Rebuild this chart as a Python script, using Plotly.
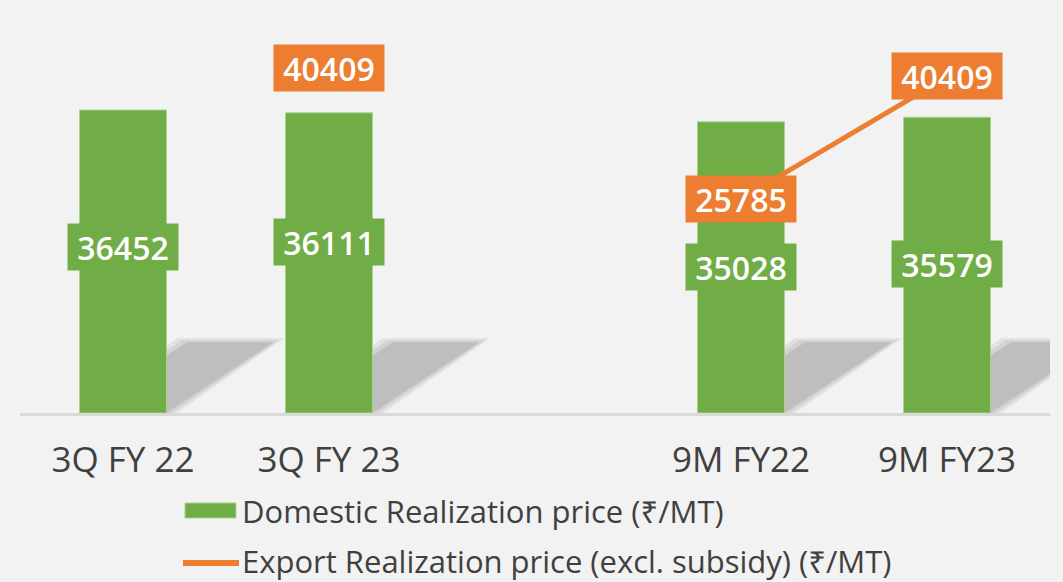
import plotly.graph_objects as go

# ---- data ----
categories = ["3Q FY 22", "3Q FY 23", " ", "9M FY22", "9M FY23"]
domestic = [36452, 36111, None, 35028, 35579]
export = [None, 40409, None, 25785, 40409]
series_names = ["Domestic Realization price (₹/MT)",
                "Export Realization price (excl. subsidy) (₹/MT)"]

GREEN = "#70AD47"
ORANGE = "#ED7D31"
BG = "#F2F2F2"
TXT = "#404040"
FONT = "Open Sans, Noto Sans, DejaVu Sans, sans-serif"

W, H = 1063, 582
ML, MR, MT, MB = 20, 13, 30, 169
YMAX = 46078

def px_x(px):
    return (px - ML) / (W - ML - MR)

def px_y(py):
    return (H - MB - py) / (H - MT - MB)

fig = go.Figure()
fig.add_trace(go.Bar(x=categories, y=domestic, marker=dict(color=GREEN, line=dict(color="#A9D18E", width=1)),
                     name=series_names[0], showlegend=False, hoverinfo="skip"))
fig.add_trace(go.Scatter(x=categories, y=export, mode="lines", line=dict(color=ORANGE, width=5),
                         name=series_names[1], showlegend=False, connectgaps=False, hoverinfo="skip"))

shapes = []
# decorative shadows behind bars
half = 0.211
for i, v in enumerate(domestic):
    if v is None:
        continue
    for grow, op in [(0.05, 0.18), (0.025, 0.2), (0.0, 0.32)]:
        top = 8500 + grow * 10000
        path = (f"M {i - half} 0 L {i + half + grow} 0 "
                f"L {i + 0.73 + grow} {top} L {i + 0.31 - grow} {top} Z")
        shapes.append(dict(type="path", path=path, xref="x", yref="y", layer="below",
                           fillcolor="#969696", opacity=op, line=dict(width=0)))

# manual legend
shapes.append(dict(type="rect", xref="paper", yref="paper",
                   x0=px_x(185), x1=px_x(236), y0=px_y(518), y1=px_y(503),
                   fillcolor=GREEN, line=dict(color="#A9D18E", width=1)))
shapes.append(dict(type="line", xref="paper", yref="paper",
                   x0=px_x(183), x1=px_x(239), y0=px_y(563), y1=px_y(563),
                   line=dict(color=ORANGE, width=6)))

annotations = []
bar_label_shift = [15, 21, 0, 0, 1]
for i, v in enumerate(domestic):
    if v is None:
        continue
    annotations.append(dict(x=categories[i], y=v / 2, text=str(v), showarrow=False,
                            font=dict(family=FONT, size=32, color="white", weight=600),
                            bgcolor=GREEN, width=106, height=42, borderpad=2,
                            yshift=bar_label_shift[i]))
exp_label_shift = [0, 9, 0, 0, 1]
for i, v in enumerate(export):
    if v is None:
        continue
    annotations.append(dict(x=categories[i], y=v, text=str(v), showarrow=False,
                            font=dict(family=FONT, size=32, color="white", weight=600),
                            bgcolor=ORANGE, width=106, height=42, borderpad=2,
                            yshift=exp_label_shift[i]))

annotations.append(dict(xref="paper", yref="paper", x=px_x(240), y=px_y(511), xanchor="left",
                        yanchor="middle", text=series_names[0], showarrow=False,
                        font=dict(family=FONT, size=31, color=TXT)))
annotations.append(dict(xref="paper", yref="paper", x=px_x(240), y=px_y(561), xanchor="left",
                        yanchor="middle", text=series_names[1], showarrow=False,
                        font=dict(family=FONT, size=31, color=TXT)))

fig.update_layout(
    width=W, height=H,
    margin=dict(l=ML, r=MR, t=MT, b=MB),
    paper_bgcolor=BG, plot_bgcolor=BG,
    bargap=0.578,
    shapes=shapes, annotations=annotations,
    xaxis=dict(type="category", categoryorder="array", categoryarray=categories,
               range=[-0.5, len(categories) - 0.5],
               showgrid=False, showline=True, linecolor="#D9D9D9", linewidth=3,
               ticks="", tickfont=dict(family=FONT, size=35, color=TXT), ticklabelstandoff=14),
    yaxis=dict(range=[0, YMAX], visible=False, showgrid=False, zeroline=False),
    font=dict(family=FONT),
)

fig.write_html("out.html", config={"displayModeBar": False},
               post_script="document.body.style.margin='0';document.body.style.background='#F2F2F2';document.body.style.overflow='hidden';")
